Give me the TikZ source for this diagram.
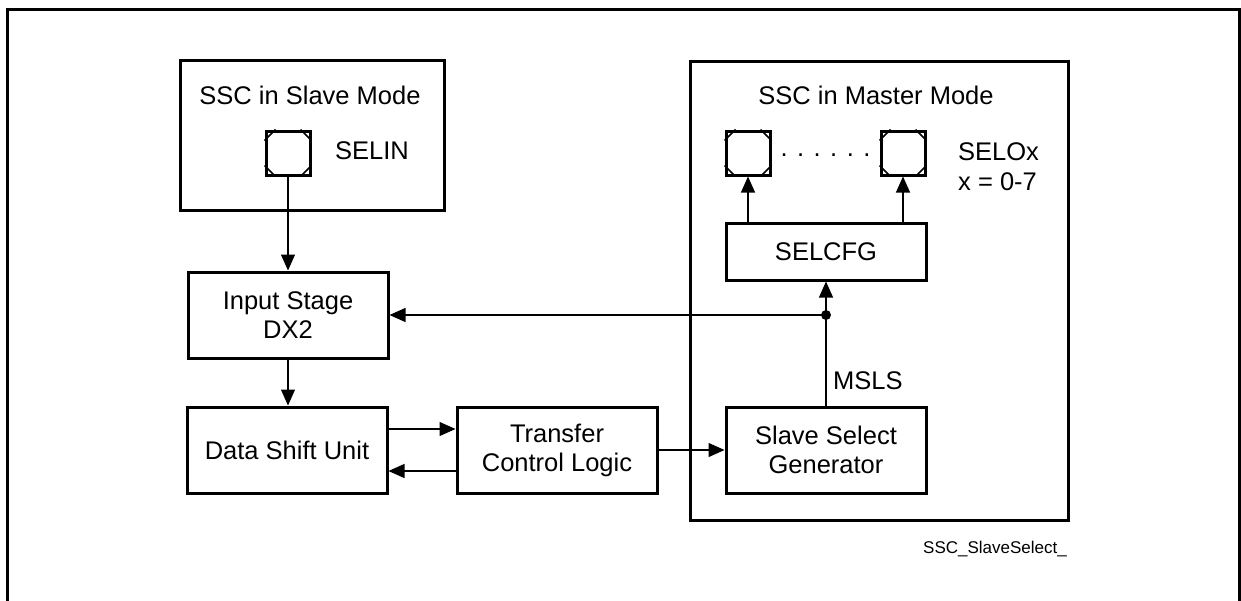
\documentclass[tikz,border=0pt]{standalone}
\usepackage{fontspec}
\setmainfont{Liberation Sans}
\usetikzlibrary{arrows.meta,calc}
\begin{document}
\begin{tikzpicture}[x=1pt,y=-1pt,
  box/.style={draw, line width=3pt, minimum width=200pt, minimum height=86pt, inner sep=0pt, align=center, font=\fontsize{25.5pt}{29pt}\selectfont},
  frameline/.style={draw, line width=3pt},
  lbl/.style={inner sep=0pt, font=\fontsize{25.5pt}{29pt}\selectfont},
  conn/.style={line width=1.2pt},
  arr/.style={conn, -{Triangle[length=16pt,width=14pt]}},
  pin/.style={draw, line width=3pt, minimum size=44pt, inner sep=0pt},
  corner/.style={line width=1.6pt}
]
\useasboundingbox (0,0) rectangle (1241,600);
% outer frame
\draw[line width=3pt] (7,640) -- (7,9) -- (1239,9) -- (1239,640);
% group boxes
\node[frameline, minimum width=264pt, minimum height=150pt, inner sep=0pt] (slave) at (312,135) {};
\node[frameline, minimum width=378pt, minimum height=459pt, inner sep=0pt] (master) at (879,290.5) {};
% titles and labels
\node[lbl] (tslave) at (310,95) {SSC in Slave Mode};
\node[lbl] (tmaster) at (876,95) {SSC in Master Mode};
\node[lbl, anchor=west] (selin) at (335,151) {SELIN};
\node[lbl, anchor=west] (selox) at (958,152) {SELOx};
\node[lbl, anchor=west] (xrange) at (958,182) {x = 0-7};
\node[lbl, anchor=base] (dots) at (825.5,156) {. . . . . .};
\node[lbl, anchor=west] (msls) at (833,381) {MSLS};
\node[inner sep=0pt, anchor=base east, font=\fontsize{17pt}{20pt}\selectfont] (fig) at (1067,553) {SSC\_SlaveSelect\_};
% blocks
\node[box] (inp) at (288,315) {Input Stage\\DX2};
\node[box] (dsu) at (287,450) {Data Shift Unit};
\node[box] (tcl) at (557,450) {Transfer\\Control Logic};
\node[box] (ssg) at (826,450) {Slave Select\\Generator};
\node[box, minimum height=57pt] (selcfg) at (826,251.5) {SELCFG};
% pins
\node[pin] (pinS) at (288,153) {};
\node[pin] (pinM1) at (748,153) {};
\node[pin] (pinM2) at (903,153) {};
\foreach \p in {pinS,pinM1,pinM2}{
  \draw[corner] ($(\p.north west)+(11,0)$) -- ($(\p.north west)+(0,11)$);
  \draw[corner] ($(\p.north east)+(-11,0)$) -- ($(\p.north east)+(0,11)$);
  \draw[corner] ($(\p.south west)+(11,0)$) -- ($(\p.south west)+(0,-11)$);
  \draw[corner] ($(\p.south east)+(-11,0)$) -- ($(\p.south east)+(0,-11)$);
}
% connectors
\draw[arr] (pinS.south) -- (inp.north);
\draw[arr] (inp.south) -- (inp.south |- dsu.north);
\draw[arr] ([yshift=21pt]dsu.east) -- ([yshift=21pt]tcl.west);
\draw[arr] ([yshift=-21pt]tcl.west) -- ([yshift=-21pt]dsu.east);
\draw[arr] (tcl.east) -- (ssg.west);
\coordinate (junc) at (826,315);
\draw[arr] (ssg.north) -- (selcfg.south);
\fill (junc) circle (5pt);
\draw[arr] (junc) -- (junc -| inp.east);
\draw[arr] (pinM1.south |- selcfg.north) -- (pinM1.south);
\draw[arr] (pinM2.south |- selcfg.north) -- (pinM2.south);
\end{tikzpicture}
\end{document}
